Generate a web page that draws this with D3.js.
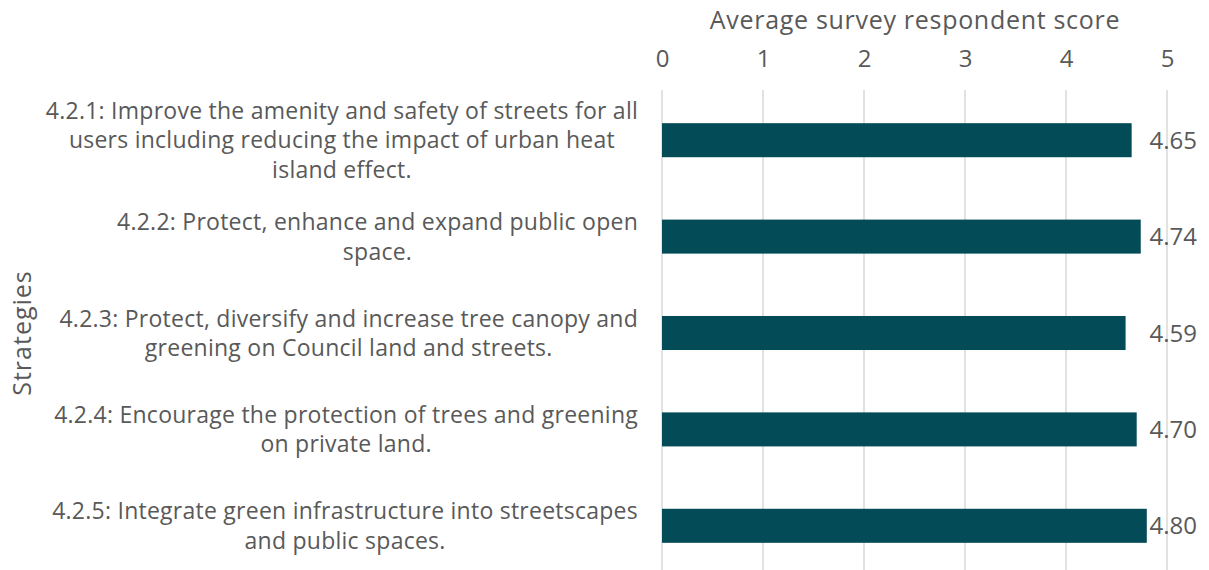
<!DOCTYPE html>
<html>
<head>
<meta charset="utf-8">
<script src="https://cdn.jsdelivr.net/npm/d3@7"></script>
<style>
  html, body { margin: 0; padding: 0; background: #ffffff; }
  svg { display: block; }
  text { font-family: "Open Sans", "Noto Sans", sans-serif; fill: #595959; }
</style>
</head>
<body>
<svg id="chart" width="1209" height="570"></svg>
<script>
// Strategy labels (line breaks kept as written on the chart)
const categories = [
  "4.2.1: Improve the amenity and safety of streets for all\nusers including reducing the impact of urban heat\nisland effect.",
  "4.2.2: Protect, enhance and expand public open\nspace.",
  "4.2.3: Protect, diversify and increase tree canopy and\ngreening on Council land and streets.",
  "4.2.4: Encourage the protection of trees and greening\non private land.",
  "4.2.5: Integrate green infrastructure into streetscapes\nand public spaces."
];
// Average score per strategy
const scores = [4.65, 4.74, 4.59, 4.70, 4.80];
const tickValues = [0, 1, 2, 3, 4, 5];
const xTitle = "Average survey respondent score";
const yTitle = "Strategies";

const svg = d3.select("#chart");
const plotTop = 90, plotBottom = 574;
const fontFamily = "'Open Sans', 'Noto Sans', sans-serif";

const x = d3.scaleLinear().domain([0, 5]).range([662, 1167]);
const y = d3.scaleBand()
  .domain(categories)
  .range([92, 574])
  .paddingInner(0.647)
  .paddingOuter(0.3235);

// vertical gridlines
svg.append("g")
  .selectAll("line")
  .data(tickValues)
  .join("line")
  .attr("x1", d => x(d)).attr("x2", d => x(d))
  .attr("y1", plotTop).attr("y2", plotBottom)
  .attr("stroke", "#d9d9d9")
  .attr("stroke-width", 1.5);

// top axis tick labels
const axis = svg.append("g")
  .attr("transform", "translate(0,67)")
  .call(d3.axisTop(x).tickValues(tickValues).tickSize(0).tickPadding(0).tickFormat(d3.format("d")));
axis.select(".domain").remove();
axis.selectAll("text")
  .attr("fill", "#595959")
  .style("font-family", fontFamily)
  .style("font-size", "24px")
  .attr("dy", 0);

// axis title
svg.append("text")
  .attr("x", 915)
  .attr("y", 29)
  .attr("text-anchor", "middle")
  .style("font-size", "25px")
  .style("letter-spacing", "0.7px")
  .text(xTitle);

// bars
svg.append("g")
  .selectAll("rect")
  .data(categories)
  .join("rect")
  .attr("x", x(0))
  .attr("y", d => y(d))
  .attr("width", (d, i) => x(scores[i]) - x(0))
  .attr("height", y.bandwidth())
  .attr("fill", "#034b57");

// value labels
svg.append("g")
  .selectAll("text")
  .data(categories)
  .join("text")
  .attr("x", x(5) + 30)
  .attr("y", d => y(d) + y.bandwidth() / 2)
  .attr("dy", "0.36em")
  .attr("text-anchor", "end")
  .style("font-size", "24px")
  .text((d, i) => d3.format(".2f")(scores[i]));

// category labels: centred text blocks whose widest line ends at the right edge
const labelRight = 638, lineH = 29.5;
const labelG = svg.append("g");
categories.forEach(cat => {
  const lines = cat.split("\n");
  const cy = y(cat) + y.bandwidth() / 2;
  const t = labelG.append("text")
    .attr("text-anchor", "middle")
    .style("font-size", "23px")
    .style("letter-spacing", "0.25px");
  lines.forEach((ln, j) => {
    t.append("tspan")
      .attr("y", cy + (j - (lines.length - 1) / 2) * lineH)
      .attr("dy", "0.36em")
      .text(ln);
  });
  let maxW = 0;
  t.selectAll("tspan").each(function() {
    maxW = Math.max(maxW, this.getComputedTextLength());
  });
  t.selectAll("tspan").attr("x", labelRight - maxW / 2);
});

// y axis title
svg.append("text")
  .attr("transform", `translate(31,${(92 + 574) / 2}) rotate(-90)`)
  .attr("text-anchor", "middle")
  .style("font-size", "25px")
  .style("letter-spacing", "1px")
  .text(yTitle);
</script>
</body>
</html>
